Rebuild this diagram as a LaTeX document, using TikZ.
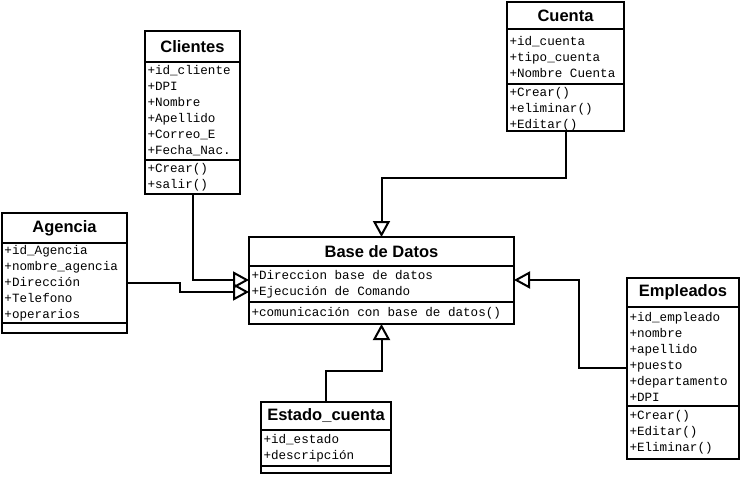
\documentclass[tikz,border=0pt]{standalone}
\usepackage{fontspec}
\setsansfont{Liberation Sans}
\setmonofont{Liberation Mono}
\usetikzlibrary{positioning,arrows.meta}

\begin{document}
\begin{tikzpicture}[x=1pt, y=-1pt, line width=2pt,
  umltitle/.style={draw, fill=white, outer sep=0pt, inner sep=0pt, anchor=north west,
    font=\sffamily\bfseries\fontsize{16.5}{18}\selectfont},
  umlbody/.style={draw, fill=white, outer sep=0pt, inner xsep=2.5pt, inner ysep=0pt,
    align=left, font=\ttfamily\fontsize{12.6}{16}\selectfont,
    execute at begin node={\spaceskip=7.56pt\relax}},
  inherit/.style={-{Triangle[open, length=16pt, width=17pt]}}]
\useasboundingbox (0,0) rectangle (740,477);
% classes: title / attributes / methods
\node[umltitle, minimum width=95pt, minimum height=31pt] (cli-t) at (145,31) {Clientes};
\node[umlbody, below=0pt of cli-t, text width=90pt, minimum height=98pt] (cli-a)
  {+id\_cliente\\+DPI\\+Nombre\\+Apellido\\+Correo\_E\\+Fecha\_Nac.};
\node[umlbody, below=0pt of cli-a, text width=90pt, minimum height=34pt] (cli-m)
  {+Crear()\\+salir()};

\node[umltitle, minimum width=117pt, minimum height=27pt] (cu-t) at (507,2) {Cuenta};
\node[umlbody, below=0pt of cu-t, text width=112pt, minimum height=55pt] (cu-a)
  {+id\_cuenta\\+tipo\_cuenta\\+Nombre Cuenta};
\node[umlbody, below=0pt of cu-a, text width=112pt, minimum height=47pt] (cu-m)
  {\rule{0pt}{12pt}+Crear()\\+eliminar()\\+Editar()};

\node[umltitle, minimum width=125pt, minimum height=30pt] (ag-t) at (2,213) {Agencia};
\node[umlbody, below=0pt of ag-t, text width=120pt, minimum height=80pt] (ag-a)
  {+id\_Agencia\\+nombre\_agencia\\+Dirección\\+Telefono\\+operarios};
\node[umlbody, below=0pt of ag-a, text width=120pt, minimum height=10pt] (ag-m) {};

\node[umltitle, minimum width=265pt, minimum height=29pt] (base-t) at (249,237) {Base de Datos};
\node[umlbody, below=0pt of base-t, text width=260pt, minimum height=36pt] (base-a)
  {+Direccion base de datos\\+Ejecución de Comando};
\node[umlbody, below=0pt of base-a, text width=260pt, minimum height=22pt] (base-m)
  {+comunicación con base de datos()};

\node[umltitle, minimum width=130pt, minimum height=28pt] (es-t) at (261,402) {Estado\_cuenta};
\node[umlbody, below=0pt of es-t, text width=125pt, minimum height=36pt] (es-a)
  {+id\_estado\\+descripción};
\node[umlbody, below=0pt of es-a, text width=125pt, minimum height=7pt] (es-m) {};

\node[umltitle, minimum width=112pt, minimum height=29pt] (em-t) at (627,278) {Empleados};
\node[umlbody, below=0pt of em-t, text width=107pt, minimum height=99pt] (em-a)
  {+id\_empleado\\+nombre\\+apellido\\+puesto\\+departamento\\+DPI};
\node[umlbody, below=0pt of em-a, text width=107pt, minimum height=53pt] (em-m)
  {+Crear()\\+Editar()\\+Eliminar()};

% generalizations into Base de Datos
\draw[inherit] (cli-m.south) |- ([yshift=4pt]base-a.west);
\draw[inherit] (ag-a.east) -- ++(53,0) |- ([yshift=-8pt]base-a.west);
\draw[inherit] (cu-m.south) -- ++(0,47) -| (base-t.north);
\draw[inherit] (es-t.north) -- ++(0,-31) -| (base-m.south);
\draw[inherit] ([yshift=-11.5pt]em-a.west) -- ++(-48,0) |- ([yshift=4pt]base-a.east);
\end{tikzpicture}
\end{document}
